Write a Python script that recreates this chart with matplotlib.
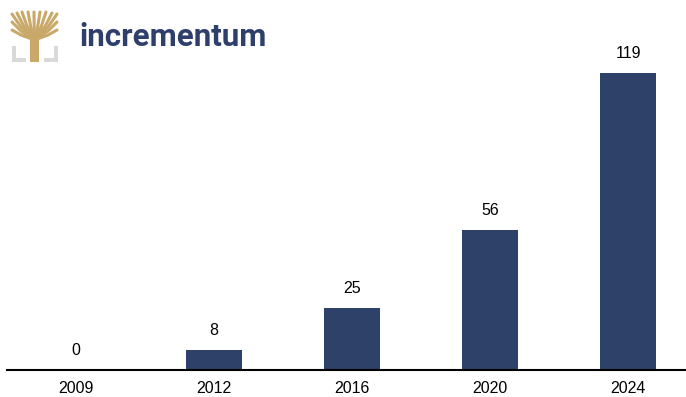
import matplotlib
matplotlib.use('Agg')
import matplotlib.pyplot as plt
from matplotlib.patches import Rectangle

years = ['2009', '2012', '2016', '2020', '2024']
values = [0, 8, 25, 56, 119]

W, H = 686, 397
BAR = '#2e4169'
GOLD = '#c8a96a'

plt.rcParams['font.family'] = ['Liberation Sans', 'DejaVu Sans']

fig = plt.figure(figsize=(W / 100, H / 100), dpi=100)
fig.patch.set_facecolor('white')

# main axes: baseline at y=370 px, left at x=7 px
ax = fig.add_axes([7 / W, (H - 370) / H, 1 - 7 / W, 350 / H])
x = range(len(years))
ax.bar(x, values, width=0.4, color=BAR, zorder=2)
ax.set_xlim(-0.5, 4.42)
ax.set_ylim(0, 350 / 2.496)
for xi, v in zip(x, values):
    ax.annotate(str(v), xy=(xi, v), xytext=(0, 14), textcoords='offset points',
                ha='center', va='center', fontsize=11.5, color='black')
ax.set_xticks(list(x))
ax.set_xticklabels(years, fontsize=11.5)
ax.tick_params(axis='x', length=0, pad=8)
ax.set_yticks([])
for s in ['top', 'right', 'left']:
    ax.spines[s].set_visible(False)
ax.spines['bottom'].set_linewidth(1.5)
ax.spines['bottom'].set_color('black')
ax.set_facecolor('none')

# logo (pixel coordinates, y down)
lg = fig.add_axes([0, 0, 1, 1], zorder=5)
lg.set_xlim(0, W)
lg.set_ylim(H, 0)
lg.axis('off')
lg.patch.set_alpha(0)
# grey brackets
grey = '#d9d9d9'
lg.add_patch(Rectangle((12, 58), 14, 4, color=grey, lw=0))
lg.add_patch(Rectangle((12, 46), 4, 16, color=grey, lw=0))
lg.add_patch(Rectangle((44, 58), 14, 4, color=grey, lw=0))
lg.add_patch(Rectangle((54, 46), 4, 16, color=grey, lw=0))
# trunk
lg.add_patch(Rectangle((30, 36), 9, 26, color=GOLD, lw=0))
# branches
for xe, ye in [(12, 14), (17, 13), (22, 12), (28, 12), (34, 12), (40, 12),
               (46, 12), (52, 13), (57, 14), (12, 22), (57, 22), (12, 30), (57, 30)]:
    lg.plot([34.5, (34.5 + xe) / 2 + (xe - 34.5) * 0.1, xe],
            [40, (40 + ye) / 2, ye], color=GOLD, lw=2.2, solid_capstyle='round')
lg.text(79, 37, 'incrementum', fontsize=22.5, fontweight='bold', color='#2e3f6b',
        ha='left', va='center', family=['Roboto', 'DejaVu Sans'])

fig.savefig('out.png', dpi=100, facecolor='white')
